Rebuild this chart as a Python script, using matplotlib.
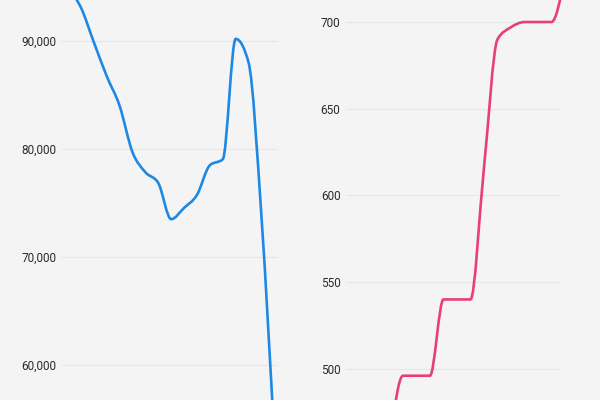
import matplotlib
matplotlib.use("Agg")
import matplotlib.pyplot as plt
from matplotlib.path import Path
from matplotlib.patches import PathPatch
from matplotlib.ticker import FuncFormatter
import numpy as np

plt.rcParams['font.family'] = ['Roboto', 'DejaVu Sans']

# left panel series (index positions, values)
left_values = [94900, 93100, 89900, 86750, 84000, 79700, 77850, 76850, 73500,
               74550, 75750, 78500, 79050, 90200, 88000, 73700, 53000]
left_ticks = [60000, 70000, 80000, 90000]

# right panel series
right_values = [455, 496, 496, 496, 540, 540, 540, 616, 690, 697, 700, 700, 700, 727]
right_ticks = [500, 550, 600, 650, 700]

BG = '#f4f4f4'
GRID = '#e6e6e6'
BLUE = '#1e88e5'
PINK = '#e83e7b'


def monotone_path(xs, ys):
    """Bezier path for a monotone-x cubic curve through the points."""
    xs = np.asarray(xs, float)
    ys = np.asarray(ys, float)
    n = len(xs)
    h = np.diff(xs)
    s = np.diff(ys) / h
    t = np.zeros(n)
    for i in range(1, n - 1):
        if s[i - 1] * s[i] <= 0:
            t[i] = 0.0
        else:
            p = (s[i - 1] * h[i] + s[i] * h[i - 1]) / (h[i - 1] + h[i])
            t[i] = np.sign(s[i]) * min(abs(s[i - 1]), abs(s[i]), 0.5 * abs(p)) * 2
    t[0] = (3 * s[0] - t[1]) / 2
    t[-1] = (3 * s[-1] - t[-2]) / 2
    verts = [(xs[0], ys[0])]
    codes = [Path.MOVETO]
    for i in range(n - 1):
        dx = h[i] / 3
        verts += [(xs[i] + dx, ys[i] + dx * t[i]),
                  (xs[i + 1] - dx, ys[i + 1] - dx * t[i + 1]),
                  (xs[i + 1], ys[i + 1])]
        codes += [Path.CURVE4] * 3
    return Path(verts, codes)


def style(ax, ticks, fmt):
    ax.set_facecolor(BG)
    for sp in ax.spines.values():
        sp.set_visible(False)
    ax.set_xticks([])
    ax.set_yticks(ticks)
    ax.yaxis.set_major_formatter(FuncFormatter(fmt))
    ax.tick_params(axis='y', length=0, pad=4, labelsize=8.5, labelcolor='#2b2b2b')
    ax.grid(axis='y', color=GRID, linewidth=0.8)
    ax.set_axisbelow(True)


fig = plt.figure(figsize=(6, 4), dpi=100)
fig.patch.set_facecolor(BG)

ax1 = fig.add_axes([62 / 600, 0, (278 - 62) / 600, 1])
ax2 = fig.add_axes([346 / 600, 0, (560 - 346) / 600, 1])

ax1.set_xlim(-0.465, 16.28)
ax1.set_ylim(56759, 93796)
style(ax1, left_ticks, lambda v, p: f'{v:,.0f}')
ax1.add_patch(PathPatch(monotone_path(range(len(left_values)), left_values),
                        fill=False, edgecolor=BLUE, linewidth=1.9,
                        capstyle='round', joinstyle='round'))

ax2.set_xlim(-3.22, 12.63)
ax2.set_ylim(482.0, 712.7)
style(ax2, right_ticks, lambda v, p: f'{v:.0f}')
ax2.add_patch(PathPatch(monotone_path(range(len(right_values)), right_values),
                        fill=False, edgecolor=PINK, linewidth=1.9,
                        capstyle='round', joinstyle='round', clip_on=False))

fig.savefig('out.png', dpi=100, facecolor=BG)
